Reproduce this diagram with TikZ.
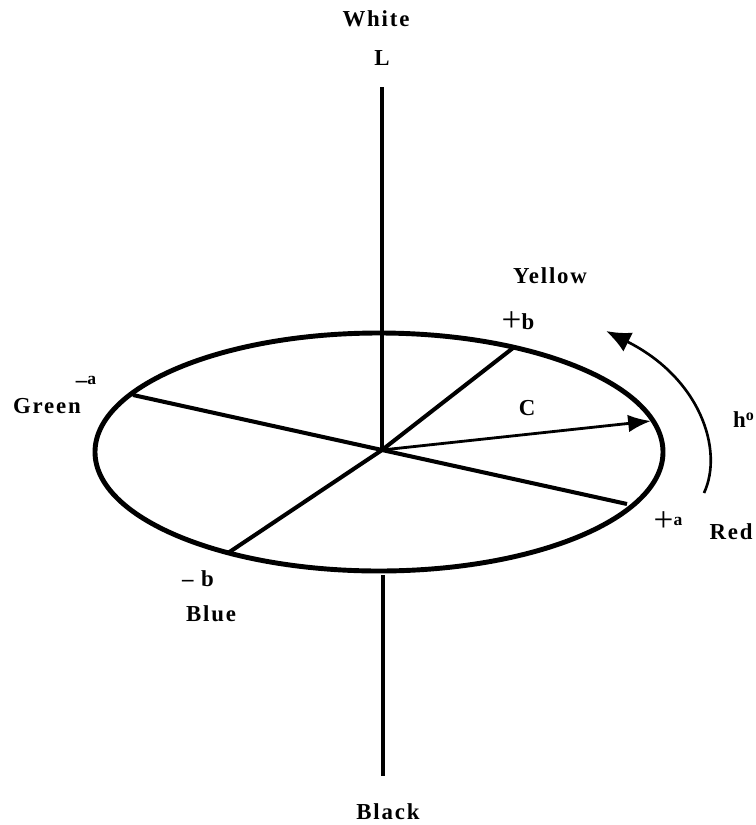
\documentclass[tikz,border=0pt]{standalone}
\usepackage{fontspec}
\setmainfont[LetterSpace=8]{Liberation Serif}
\usetikzlibrary{arrows.meta}

\begin{document}
\begin{tikzpicture}[x=0.02cm, y=-0.02cm, font=\bfseries\fontsize{13}{15}\selectfont]
            \useasboundingbox (0,0) rectangle (756,825);
            % Centre, axis ends and points on the rim
            \coordinate (O) at (382,450);
            \coordinate (Ltop) at (382,87);
            \coordinate (Lbot) at (383,575);
            \coordinate (Lend) at (383,776);
            \coordinate (pb) at (513,348);
            \coordinate (mb) at (228,553);
            \coordinate (ma) at (133,395);
            \coordinate (pa) at (627,504);
            \coordinate (Ctip) at (651,421);
            \coordinate (hs) at (704,493);
            \coordinate (he) at (606,331);

            % Lightness axis
            \node (white) at (376,19) {White};
            \node (L) at (382,58) {L};
            \node (black) at (388,812) {Black};
            \draw[line width=2pt] (Ltop) -- (O);
            \draw[line width=2pt] (Lbot) -- (Lend);

            % a*b* plane
            \draw[line width=2.8pt] (379,452) ellipse (284 and 119);
            \draw[line width=2.3pt] (O) -- (pb);
            \draw[line width=2.3pt] (O) -- (mb);
            \draw[line width=2.3pt] (O) -- (ma);
            \draw[line width=2.3pt] (O) -- (pa);

            % Chroma and hue angle
            \draw[line width=1.6pt, -{Latex[length=13pt, width=10pt]}] (O) -- (Ctip);
            \node (C) at (527,408) {C};
            \draw[line width=1.5pt, -{Latex[length=14pt, width=12pt]}] (hs) .. controls (724,450) and (700,378) .. (he);
            \node (h) at (744,420) {h\textsuperscript{o}};

            % Axis ends and colour names
            \node (yellow) at (550,276) {Yellow};
            \node (plusb) at (518,322) {\raisebox{-1.5pt}{\mdseries\fontsize{20}{20}\selectfont +}b};
            \node (minusa) at (86,382) {\textendash\raisebox{2pt}{\fontsize{10}{11}\selectfont a}};
            \node (green) at (47,406) {Green};
            \node (plusa) at (668,522) {\raisebox{-1.5pt}{\mdseries\fontsize{20}{20}\selectfont +}\raisebox{2pt}{\fontsize{10}{11}\selectfont a}};
            \node (red) at (731,532) {Red};
            \node (minusb) at (198,579) {\textendash\ b};
            \node (blue) at (211,614) {Blue};
\end{tikzpicture}
\end{document}
